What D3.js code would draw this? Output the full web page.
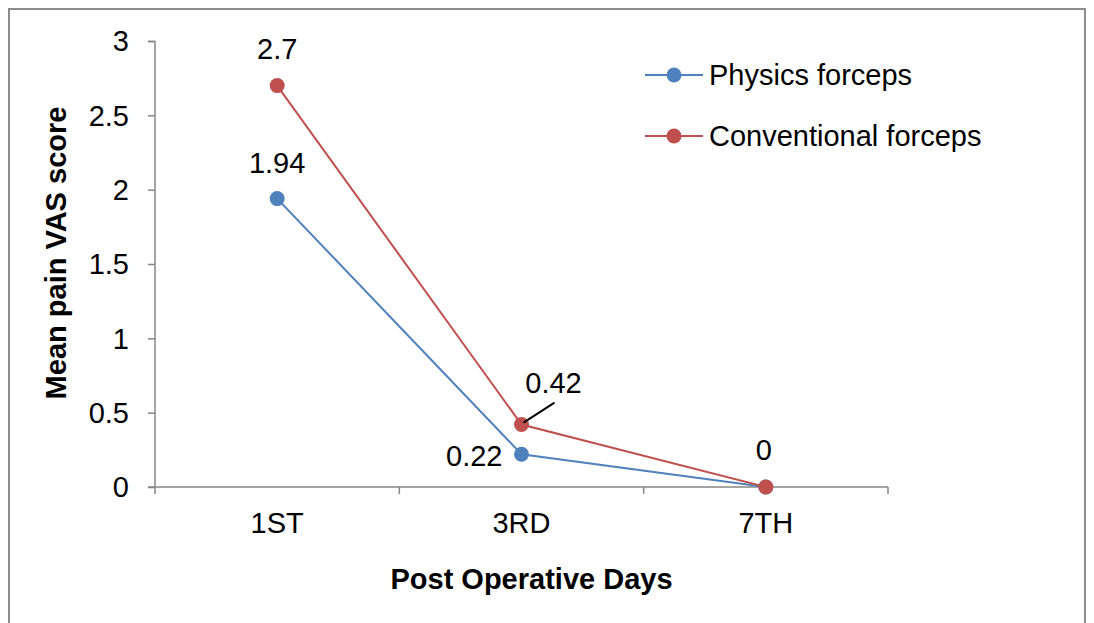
<!DOCTYPE html>
<html>
<head>
<meta charset="utf-8">
<script src="https://cdn.jsdelivr.net/npm/d3@7"></script>
<style>
  body { margin: 0; background: #fff; overflow: hidden; }
  svg { display: block; }
  svg text { font-family: "Liberation Sans", Arial, sans-serif; }
</style>
</head>
<body>
<svg id="chart" width="1094" height="623"></svg>
<script>
const categories = ["1ST", "3RD", "7TH"];
const physics = [1.94, 0.22, 0];
const conventional = [2.7, 0.42, 0];
const seriesNames = ["Physics forceps", "Conventional forceps"];
const yTicks = [0, 0.5, 1, 1.5, 2, 2.5, 3];

const width = 1094, height = 623;
const margin = { top: 41, left: 155, right: 206, bottom: 136 };
const innerWidth = width - margin.left - margin.right,
  innerHeight = height - margin.top - margin.bottom;
const fs = 29;

const svg = d3.select("#chart");

// outer frame (bottom edge runs off the picture)
svg.append("path")
  .attr("d", `M9,${height}V9H1085V${height}`)
  .attr("fill", "none")
  .attr("stroke", "#8c8c8c")
  .attr("stroke-width", 2);

const x = d3.scaleBand().domain(categories)
  .range([margin.left, margin.left + innerWidth]);
const y = d3.scaleLinear().domain([0, 3])
  .range([margin.top + innerHeight, margin.top]);
const y0 = y(0);

// y axis (labels drawn separately below)
const yAxis = svg.append("g")
  .attr("transform", `translate(${margin.left}, 0)`)
  .call(d3.axisLeft(y).tickValues(yTicks).tickFormat("").tickSize(7));
yAxis.selectAll("path, line").attr("stroke", "#868686").attr("stroke-width", 1.5);
yAxis.select(".domain").attr("d", `M-7,${margin.top + 0.5}H0V${y0}H-7`);
yAxis.selectAll("text").remove();

svg.append("g")
  .selectAll("text")
  .data(yTicks)
  .join("text")
  .attr("x", margin.left - 26)
  .attr("y", (d) => y(d) + fs * 0.36)
  .attr("text-anchor", "end")
  .attr("font-size", fs)
  .attr("fill", "#000")
  .text((d) => d);

// x axis
const xAxis = svg.append("g")
  .attr("transform", `translate(0, ${y0})`)
  .call(d3.axisBottom(x).tickSize(0).tickFormat(""));
xAxis.select(".domain").attr("stroke", "#868686").attr("stroke-width", 1.5)
  .attr("d", `M${margin.left},0H${margin.left + innerWidth}`);
xAxis.selectAll("text").remove();
// boundary ticks between categories
svg.append("g")
  .selectAll("line")
  .data(d3.range(categories.length + 1))
  .join("line")
  .attr("x1", (i) => margin.left + i * x.bandwidth())
  .attr("x2", (i) => margin.left + i * x.bandwidth())
  .attr("y1", y0)
  .attr("y2", y0 + 7)
  .attr("stroke", "#868686")
  .attr("stroke-width", 1.5);

const cx = (c) => x(c) + x.bandwidth() / 2;

svg.append("g")
  .selectAll("text")
  .data(categories)
  .join("text")
  .attr("x", (d) => cx(d))
  .attr("y", y0 + 46)
  .attr("text-anchor", "middle")
  .attr("font-size", fs)
  .attr("fill", "#000")
  .text((d) => d);

const series = [
  { name: seriesNames[0], values: physics, color: "#4f81bd" },
  { name: seriesNames[1], values: conventional, color: "#c0504d" },
];

const line = d3.line()
  .x((d, i) => cx(categories[i]))
  .y((d) => y(d));

series.forEach((s) => {
  svg.append("path")
    .datum(s.values)
    .attr("fill", "none")
    .attr("stroke", s.color)
    .attr("stroke-width", 2)
    .attr("d", line);
});
series.forEach((s) => {
  svg.append("g")
    .selectAll("circle")
    .data(s.values)
    .join("circle")
    .attr("cx", (d, i) => cx(categories[i]))
    .attr("cy", (d) => y(d))
    .attr("r", 7.5)
    .attr("fill", s.color);
});

// data labels
const labels = [
  { s: 1, i: 0, dx: 0, dy: -27, anchor: "middle" },
  { s: 0, i: 0, dx: 0, dy: -26, anchor: "middle" },
  { s: 1, i: 1, dx: 32, dy: -32, anchor: "middle" },
  { s: 0, i: 1, dx: -19, dy: 12, anchor: "end" },
  { s: 1, i: 2, dx: -2, dy: -27, anchor: "middle" },
];
labels.forEach((l) => {
  const v = series[l.s].values[l.i];
  svg.append("text")
    .attr("x", cx(categories[l.i]) + l.dx)
    .attr("y", y(v) + l.dy)
    .attr("text-anchor", l.anchor)
    .attr("font-size", fs)
    .attr("fill", "#000")
    .text(v);
});
// leader line for 0.42
svg.append("line")
  .attr("x1", cx(categories[1]) + 2)
  .attr("y1", y(conventional[1]) - 2)
  .attr("x2", cx(categories[1]) + 33)
  .attr("y2", y(conventional[1]) - 22)
  .attr("stroke", "#000")
  .attr("stroke-width", 2);

// legend
series.forEach((s, i) => {
  const ly = 75 + i * 61;
  svg.append("line").attr("x1", 645).attr("x2", 703).attr("y1", ly).attr("y2", ly)
    .attr("stroke", s.color).attr("stroke-width", 2);
  svg.append("circle").attr("cx", 674).attr("cy", ly).attr("r", 7.5).attr("fill", s.color);
  svg.append("text").attr("x", 709).attr("y", ly + 10)
    .attr("font-size", fs).attr("fill", "#000").text(s.name);
});

// axis titles
svg.append("text")
  .attr("x", margin.left + innerWidth / 2 + 10)
  .attr("y", 589)
  .attr("text-anchor", "middle")
  .attr("font-size", fs)
  .attr("font-weight", "bold")
  .text("Post Operative Days");
svg.append("text")
  .attr("x", 66)
  .attr("y", 253)
  .attr("transform", "rotate(-90, 66, 253)")
  .attr("text-anchor", "middle")
  .attr("font-size", fs)
  .attr("font-weight", "bold")
  .text("Mean pain VAS score");
</script>
</body>
</html>
